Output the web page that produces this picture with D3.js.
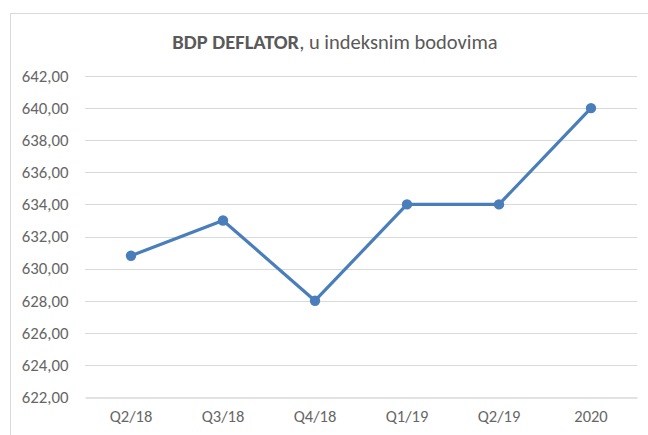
<!DOCTYPE html>
<html>
<head>
<meta charset="utf-8">
<script src="https://cdn.jsdelivr.net/npm/d3@7"></script>
<style>
  html, body { margin: 0; padding: 0; background: #fff; }
  svg { display: block; }
  text { font-family: Carlito, "Open Sans", "Liberation Sans", sans-serif; }
</style>
</head>
<body>
<svg id="chart" width="648" height="435"></svg>
<script>
const categories = ["Q2/18", "Q3/18", "Q4/18", "Q1/19", "Q2/19", "2020"];
const values = [630.8, 633.0, 628.0, 634.0, 634.0, 640.0];
const yTicks = [622, 624, 626, 628, 630, 632, 634, 636, 638, 640, 642];

const svg = d3.select("#chart");
const W = 648, H = 435;
const m = { left: 85, right: 11, top: 76, bottom: 38 };

// outer chart border
svg.append("rect")
  .attr("x", 10.5).attr("y", 13.5)
  .attr("width", W).attr("height", H)
  .attr("fill", "#fff").attr("stroke", "#d9d9d9").attr("stroke-width", 1);

const x = d3.scaleBand().domain(categories).range([m.left, W - m.right]);
const y = d3.scaleLinear().domain([622, 642]).range([H - m.bottom, m.top]);

// gridlines
svg.append("g")
  .selectAll("line")
  .data(yTicks.slice(1))
  .join("line")
  .attr("x1", m.left).attr("x2", W - m.right)
  .attr("y1", d => Math.round(y(d)) + 0.5).attr("y2", d => Math.round(y(d)) + 0.5)
  .attr("stroke", "#d9d9d9").attr("stroke-width", 1);

const fmt = d => d3.format(".2f")(d).replace(".", ",");

// y axis
const yAxis = svg.append("g")
  .attr("transform", `translate(${m.left},0)`)
  .call(d3.axisLeft(y).tickValues(yTicks).tickFormat(fmt).tickSize(0).tickPadding(16.5));
yAxis.select(".domain").remove();
yAxis.selectAll("text").attr("fill", "#666666").style("font-size", "16.8px");

// x axis
const xAxis = svg.append("g")
  .attr("transform", `translate(0,${Math.round(y(622)) + 0.5})`)
  .call(d3.axisBottom(x).tickSize(0).tickPadding(12.5));
xAxis.select(".domain").attr("stroke", "#d9d9d9").attr("stroke-width", 1.3);
xAxis.selectAll("text").attr("fill", "#666666").style("font-size", "16.5px");

// line
const line = d3.line()
  .x((d, i) => x(categories[i]) + x.bandwidth() / 2)
  .y(d => y(d));

svg.append("path")
  .datum(values)
  .attr("d", line)
  .attr("fill", "none")
  .attr("stroke", "#4a7ebb")
  .attr("stroke-width", 3.2)
  .attr("stroke-linejoin", "round");

svg.append("g")
  .selectAll("circle")
  .data(values)
  .join("circle")
  .attr("cx", (d, i) => x(categories[i]) + x.bandwidth() / 2)
  .attr("cy", d => y(d))
  .attr("r", 5.2)
  .attr("fill", "#4a7ebb");

// title
const title = svg.append("text")
  .attr("x", 335).attr("y", 48.5)
  .attr("text-anchor", "middle")
  .attr("fill", "#595959")
  .style("font-size", "20.5px");
title.append("tspan").attr("font-weight", "bold").text("BDP DEFLATOR");
title.append("tspan").text(", u indeksnim bodovima");
</script>
</body>
</html>
